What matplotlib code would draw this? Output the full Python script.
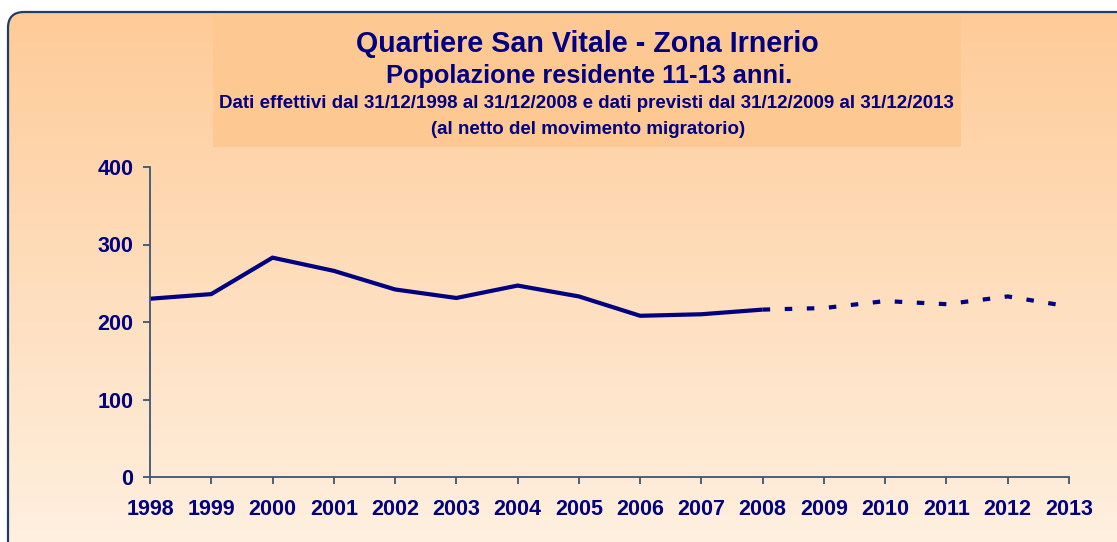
import numpy as np
import matplotlib
matplotlib.use("Agg")
import matplotlib.pyplot as plt
from matplotlib.patches import FancyBboxPatch, Rectangle

# data
years_actual = [1998, 1999, 2000, 2001, 2002, 2003, 2004, 2005, 2006, 2007, 2008]
pop_actual = [230, 236, 283, 266, 242, 231, 247, 233, 208, 210, 216]
years_forecast = [2008, 2009, 2010, 2011, 2012, 2013]
pop_forecast = [216, 218, 227, 223, 233, 220]
year_labels = [str(y) for y in range(1998, 2014)]
y_ticks = [0, 100, 200, 300, 400]

title1 = "Quartiere San Vitale - Zona Irnerio"
title2 = "Popolazione residente 11-13 anni."
title3 = "Dati effettivi dal 31/12/1998 al 31/12/2008 e dati previsti dal 31/12/2009 al 31/12/2013"
title4 = "(al netto del movimento migratorio)"

navy = "#000080"
spine_col = "#3b5674"
W, H = 1117, 542

plt.rcParams['font.family'] = ['Liberation Sans', 'DejaVu Sans']
plt.rcParams['font.weight'] = 'bold'

fig = plt.figure(figsize=(W / 100, H / 100), dpi=100)
fig.patch.set_facecolor("white")

# background layer in pixel coordinates
bg = fig.add_axes([0, 0, 1, 1])
bg.set_xlim(0, W)
bg.set_ylim(H, 0)
bg.axis("off")

frame = FancyBboxPatch((8, 12), W + 20, H + 20,
                       boxstyle="round,pad=0,rounding_size=16",
                       facecolor="none", edgecolor="#1f3d66", linewidth=1.6, zorder=3)
bg.add_patch(frame)

top = np.array([254, 203, 152]) / 255
bottom = np.array([255, 242, 228]) / 255
t = np.linspace(0, 1, 256)[:, None]
grad = top + (bottom - top) * t
grad = np.repeat(grad[:, None, :], 2, axis=1)
im = bg.imshow(grad, extent=(8, W + 28, H + 32, 12), aspect="auto", zorder=1)
im.set_clip_path(frame)

box = Rectangle((213, 12), 748, 135, facecolor="#fec893", edgecolor="none", zorder=2)
box.set_clip_path(frame)
bg.add_patch(box)

bg.text(587, 44, title1, color=navy, fontsize=20.6, ha="center", va="center", zorder=4)
bg.text(589, 76, title2, color=navy, fontsize=18.3, ha="center", va="center", zorder=4)
bg.text(586, 103, title3, color=navy, fontsize=13.5, ha="center", va="center", zorder=4)
bg.text(588, 129, title4, color=navy, fontsize=13.5, ha="center", va="center", zorder=4)

# chart
ax = fig.add_axes([150 / W, 1 - 477 / H, (1069 - 150) / W, (477 - 167) / H])
ax.patch.set_alpha(0)
ax.plot(years_actual, pop_actual, color=navy, lw=3, solid_capstyle="butt",
        solid_joinstyle="miter", clip_on=False)
ax.plot(years_forecast, pop_forecast, color=navy, lw=3, dash_capstyle="butt",
        linestyle=(0, (1.8, 3.5)), clip_on=False)

ax.set_xlim(1998, 2013)
ax.set_ylim(0, 400)
ax.set_xticks(range(1998, 2014))
ax.set_xticklabels(year_labels)
ax.set_yticks(y_ticks)

for s in ["top", "right"]:
    ax.spines[s].set_visible(False)
for s in ["left", "bottom"]:
    ax.spines[s].set_color(spine_col)
    ax.spines[s].set_linewidth(1.3)

ax.tick_params(axis="both", colors=spine_col, length=5, width=1.3, direction="out",
               labelcolor=navy, labelsize=15.5)
ax.tick_params(axis="x", pad=11)
ax.tick_params(axis="y", pad=7)

fig.savefig("out.png", dpi=100, facecolor=fig.get_facecolor())
